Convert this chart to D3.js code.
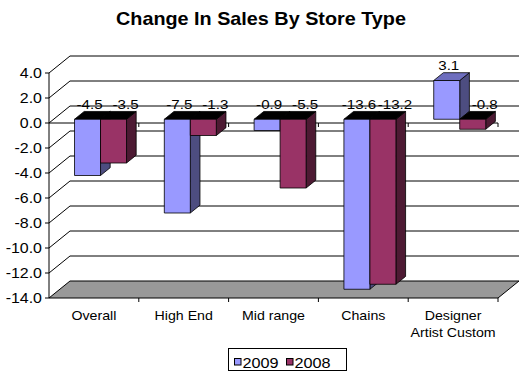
<!DOCTYPE html>
<html>
<head>
<meta charset="utf-8">
<script src="https://d3js.org/d3.v7.min.js"></script>
<style>
  html, body { margin: 0; padding: 0; background: #fff; }
  svg { display: block; font-family: "Liberation Sans", Arial, sans-serif; }
</style>
</head>
<body>
<svg id="chart" width="526" height="385"></svg>
<script>
// ── Data ──
const categories = ['Overall', 'High End', 'Mid range', 'Chains', 'Designer Artist Custom'];
const categoryLines = [['Overall'], ['High End'], ['Mid range'], ['Chains'], ['Designer', 'Artist Custom']];
const seriesNames = ['2009', '2008'];
const values2009 = [-4.5, -7.5, -0.9, -13.6, 3.1];
const values2008 = [-3.5, -1.3, -5.5, -13.2, -0.8];
const yTickValues = [-14, -12, -10, -8, -6, -4, -2, 0, 2, 4];

const COLORS = {
  '2009': { front: '#9999ff', side: '#4d4d80', top: '#6e6ebe', topNeg: '#000' },
  '2008': { front: '#993366', side: '#4d1a33', top: '#7a2952', topNeg: '#000' },
};

// oblique depth for walls / floor
const DX = 21, DY = -17;
const Z_FRONT = 0.22, Z_BACK = 0.68;

const svg = d3.select('#chart');

const x = d3.scaleBand().domain(categories).range([49, 498]);
const xs = d3.scaleBand().domain(seriesNames).range([0, 52]);
const y = d3.scaleLinear().domain([-14, 4]).range([298, 73]);

const proj = (px, v, z) => [px + DX * z, y(v) + DY * z];
const poly = pts => 'M' + pts.map(p => p.join(',')).join('L') + 'Z';
const fmt = v => v.toFixed(1); // plain hyphen minus like the reference

// stretched text helper (reference font renders wide)
function stext(parent, tx, ty, str, size, sx, anchor, weight) {
  return parent.append('text')
    .attr('transform', `translate(${tx},${ty}) scale(${sx},1)`)
    .attr('text-anchor', anchor || 'middle')
    .attr('font-size', size + 'px')
    .attr('font-weight', weight || 'normal')
    .attr('fill', '#000')
    .text(str);
}

// Title
stext(svg, 261, 25, 'Change In Sales By Store Type', 18, 1.1, 'middle', 'bold');

const [y0, y1] = y.domain();
const xL = x.range()[0], xR = x.range()[1];

// Floor
svg.append('path')
  .attr('d', poly([proj(xL, y0, 0), proj(xR, y0, 0), proj(xR, y0, 1), proj(xL, y0, 1)]))
  .attr('fill', '#999').attr('stroke', '#000').attr('stroke-width', 1);

// Back wall gridlines + side wall diagonals
yTickValues.forEach(t => {
  if (t === y0) return;
  const a = proj(xL, t, 0), b = proj(xL, t, 1), c = proj(xR, t, 1);
  svg.append('path').attr('d', `M${a}L${b}L${c}`)
    .attr('fill', 'none').attr('stroke', '#000').attr('stroke-width', 1);
});

// Value axis
const axisG = svg.append('g');
axisG.append('line').attr('x1', xL).attr('x2', xL).attr('y1', y(y1)).attr('y2', y(y0))
  .attr('stroke', '#000');
yTickValues.forEach(t => {
  axisG.append('line').attr('x1', xL - 4).attr('x2', xL).attr('y1', y(t)).attr('y2', y(t))
    .attr('stroke', '#000');
  stext(axisG, 42, y(t) + 5, fmt(t), 14, 1.14, 'end');
});

// Category axis line at zero + ticks
svg.append('line').attr('x1', xL).attr('x2', xR).attr('y1', y(0)).attr('y2', y(0))
  .attr('stroke', '#000');
categories.forEach(c => {
  const tx = x(c) + x.bandwidth();
  svg.append('line').attr('x1', tx).attr('x2', tx).attr('y1', y(0)).attr('y2', y(0) + 4)
    .attr('stroke', '#000');
  svg.append('line').attr('x1', tx).attr('x2', tx).attr('y1', y(y0)).attr('y2', y(y0) + 4)
    .attr('stroke', '#000');
});

// Bars
const bars = svg.append('g');
const labels = svg.append('g');
categories.forEach((c, i) => {
  [values2009[i], values2008[i]].forEach((v, si) => {
    const s = seriesNames[si];
    const col = COLORS[s];
    const bx0 = x(c) + x.bandwidth() / 2 - 24 + xs(s);
    const bx1 = bx0 + xs.bandwidth();
    const vt = Math.max(v, 0), vb = Math.min(v, 0);

    bars.append('path')
      .attr('d', poly([proj(bx1, vt, Z_FRONT), proj(bx1, vt, Z_BACK), proj(bx1, vb, Z_BACK), proj(bx1, vb, Z_FRONT)]))
      .attr('fill', col.side).attr('stroke', '#000').attr('stroke-width', 0.8);
    bars.append('path')
      .attr('d', poly([proj(bx0, vt, Z_FRONT), proj(bx1, vt, Z_FRONT), proj(bx1, vt, Z_BACK), proj(bx0, vt, Z_BACK)]))
      .attr('fill', v < 0 ? col.topNeg : col.top).attr('stroke', '#000').attr('stroke-width', 0.8);
    bars.append('path')
      .attr('d', poly([proj(bx0, vt, Z_FRONT), proj(bx1, vt, Z_FRONT), proj(bx1, vb, Z_FRONT), proj(bx0, vb, Z_FRONT)]))
      .attr('fill', col.front).attr('stroke', '#000').attr('stroke-width', 0.8);

    // value label above back edge of the top face
    const [, ly] = proj(bx0, vt, Z_BACK);
    const [fx] = proj((bx0 + bx1) / 2, vt, Z_FRONT);
    const lx = fx + (si === 0 ? 2 : 12);
    stext(labels, lx, ly - 2.5, fmt(v), 13.5, 1.12, 'middle');
  });
});

// Category labels
categories.forEach((c, i) => {
  const cx = x(c) + x.bandwidth() / 2;
  categoryLines[i].forEach((ln, li) => {
    stext(svg, cx, 320 + li * 17, ln, 13.5, 1.05, 'middle');
  });
});

// Legend
const lg = svg.append('g');
lg.append('rect').attr('x', 228.5).attr('y', 348.5).attr('width', 118).attr('height', 22)
  .attr('fill', '#fff').attr('stroke', '#000');
const legX = [234, 286];
seriesNames.forEach((s, i) => {
  lg.append('rect').attr('x', legX[i] + 0.5).attr('y', 358.5).attr('width', 6.5).attr('height', 6.5)
    .attr('fill', COLORS[s].front).attr('stroke', '#000');
  stext(lg, legX[i] + 8.5, 367.5, s, 14.5, 1.12, 'start');
});
</script>
</body>
</html>
